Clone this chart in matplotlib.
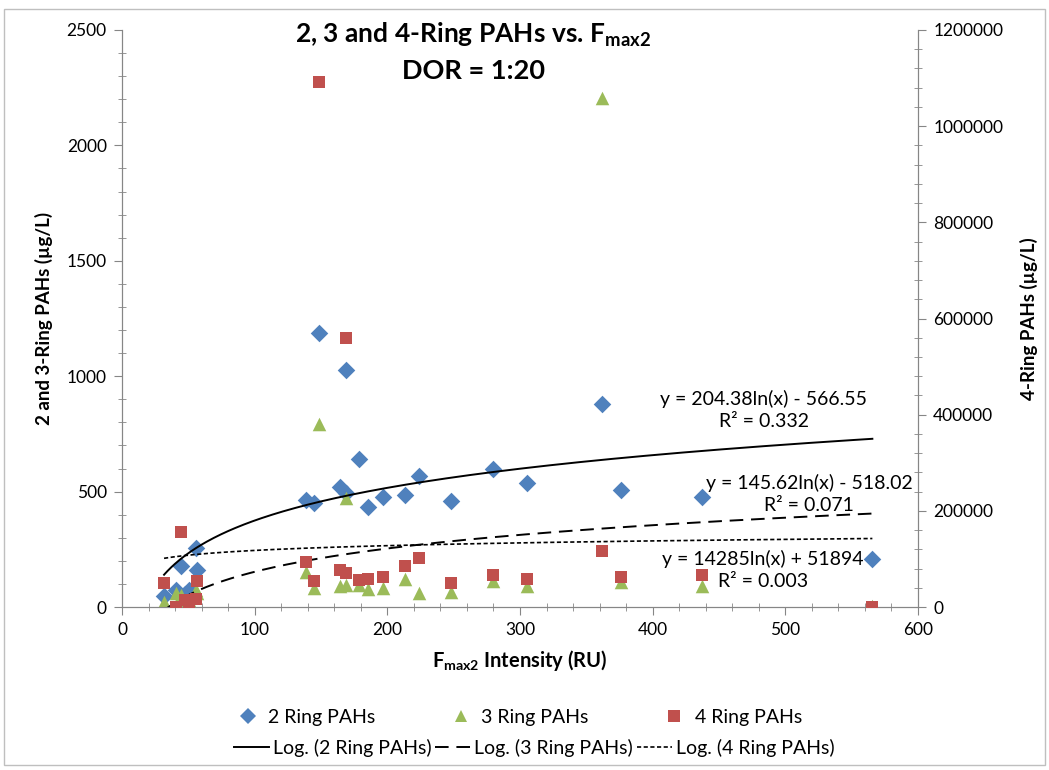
import numpy as np
import matplotlib.pyplot as plt
from matplotlib.lines import Line2D
from matplotlib.patches import Rectangle
from matplotlib.ticker import MultipleLocator

plt.rcParams['font.family'] = ['Lato', 'DejaVu Sans']
plt.rcParams['mathtext.default'] = 'regular'

# Fmax2 intensity (RU) of each sample
fmax2 = [31.7, 41.0, 44.5, 47.5, 50.5, 55.5, 56.3, 139.0, 144.5, 148.7, 164.0, 168.7, 169.0,
         179.0, 185.5, 196.7, 213.3, 224.1, 248.3, 280.0, 305.0, 362.0, 376.0, 437.0, 565.6]
# concentrations (ug/L)
ring2 = [48, 74, 178, 55, 74, 254, 160, 464, 452, 1186, 521, 1027, 495,
         640, 435, 475, 485, 569, 459, 597, 536, 880, 507, 478, 208]
ring3 = [23, 62, 50, 20, 30, 74, 60, 153, 81, 793, 91, 472, 95,
         95, 77, 81, 120, 62, 66, 113, 91, 2207, 108, 91, 5]
ring4 = [49400, 0, 155500, 14600, 0, 16000, 54700, 93000, 54700, 1092500, 77000, 560000, 71300,
         56000, 58300, 63000, 85300, 101300, 49300, 66500, 57600, 116600, 63000, 66600, 0]

# log trendlines y = a*ln(x) + b
fit2 = (204.38, -566.55, 0.332)
fit3 = (145.62, -518.02, 0.071)
fit4 = (14285, 51894, 0.003)

c_blue = '#4F81BD'
c_green = '#9BBB59'
c_red = '#C0504D'
c_axis = '#868686'

fig = plt.figure(figsize=(10.49, 7.70), dpi=100)
fig.patches.append(Rectangle((0.004, 0.006), 0.992, 0.982, transform=fig.transFigure,
                             fill=False, ec='#BFBFBF', lw=1))
ax = fig.add_axes([122/1049, 1-607/770, 796/1049, 577/770])
ax2 = ax.twinx()

x = np.array(fmax2)
xx = np.linspace(x.min(), x.max(), 400)

ax.scatter(fmax2, ring2, marker='D', s=80, color=c_blue, lw=0, zorder=3)
ax.scatter(fmax2, ring3, marker='^', s=95, color=c_green, lw=0, zorder=3)
ax2.scatter(fmax2, ring4, marker='s', s=85, color=c_red, lw=0, zorder=3)

ax.plot(xx, fit2[0]*np.log(xx) + fit2[1], color='black', lw=1.4, zorder=4)
ax.plot(xx, fit3[0]*np.log(xx) + fit3[1], color='black', lw=1.4, ls=(0, (7, 4)), zorder=4)
ax2.plot(xx, fit4[0]*np.log(xx) + fit4[1], color='black', lw=1.2, ls=(0, (2.5, 1.5)), zorder=4)

ax.set_xlim(0, 600)
ax.set_ylim(0, 2500)
ax2.set_ylim(0, 1200000)
ax.xaxis.set_major_locator(MultipleLocator(100))
ax.xaxis.set_minor_locator(MultipleLocator(20))
ax.yaxis.set_major_locator(MultipleLocator(500))
ax.yaxis.set_minor_locator(MultipleLocator(100))
ax2.yaxis.set_major_locator(MultipleLocator(200000))
ax2.yaxis.set_minor_locator(MultipleLocator(40000))
ax2.yaxis.set_major_formatter(plt.FuncFormatter(lambda v, p: f'{v:.0f}'))

for a in (ax, ax2):
    a.spines['top'].set_visible(False)
    for s in ('left', 'right', 'bottom'):
        a.spines[s].set_color(c_axis)
    a.tick_params(which='major', direction='out', length=6, color=c_axis, labelsize=12.5, pad=5)
    a.tick_params(which='minor', direction='inout', length=6, color=c_axis)

ax.set_xlabel('F$_{max2}$ Intensity (RU)', fontsize=14.5, fontweight='bold', labelpad=7)
ax.set_ylabel('2 and 3-Ring PAHs (\u00b5g/L)', fontsize=13.5, fontweight='bold', labelpad=10)
ax2.set_ylabel('4-Ring PAHs (\u00b5g/L)', fontsize=13.5, fontweight='bold', labelpad=12)

title_font = ['Liberation Sans Narrow', 'Lato', 'DejaVu Sans']
fig.text(473/1049, 1-35/770, '2, 3 and 4-Ring PAHs vs. F$_{max2}$', ha='center', va='center',
         fontsize=19, fontweight='bold', family=title_font)
fig.text(473/1049, 1-71/770, 'DOR = 1:20', ha='center', va='center', fontsize=19.5,
         fontweight='bold', family=title_font)

# trendline equations
def eq_label(fit):
    a, b, r2 = fit
    sign = '-' if b < 0 else '+'
    a_txt = f'{a:.2f}' if a < 1000 else f'{a:.0f}'
    b_txt = f'{abs(b):.2f}' if abs(b) < 1000 else f'{abs(b):.0f}'
    return f'y = {a_txt}ln(x) {sign} {b_txt}\nR\u00b2 = {r2:.3f}'

for fit, (px, py) in zip((fit2, fit3, fit4), ((764, 410), (809, 494), (763, 570))):
    fig.text(px/1049, 1-py/770, eq_label(fit), ha='center', va='center', fontsize=14,
             linespacing=1.3)

h1 = [Line2D([], [], ls='none', marker='D', ms=8, color=c_blue, mew=0),
      Line2D([], [], ls='none', marker='^', ms=9, color=c_green, mew=0),
      Line2D([], [], ls='none', marker='s', ms=8.5, color=c_red, mew=0)]
fig.legend(h1, ['2 Ring PAHs', '3 Ring PAHs', '4 Ring PAHs'], ncol=3, loc='center',
           bbox_to_anchor=(520/1049, 1-717/770), frameon=False, fontsize=14,
           handlelength=1.0, handletextpad=0.55, columnspacing=3.9)
h2 = [Line2D([], [], color='black', lw=1.4),
      Line2D([], [], color='black', lw=1.4, ls=(0, (7, 4))),
      Line2D([], [], color='black', lw=1.2, ls=(0, (2.5, 1.5)))]
fig.legend(h2, ['Log. (2 Ring PAHs)', 'Log. (3 Ring PAHs)', 'Log. (4 Ring PAHs)'], ncol=3,
           loc='center', bbox_to_anchor=(534/1049, 1-748/770), frameon=False, fontsize=14,
           handlelength=1.8, handletextpad=0.2, columnspacing=0.2)

fig.savefig('out.png', dpi=100)
